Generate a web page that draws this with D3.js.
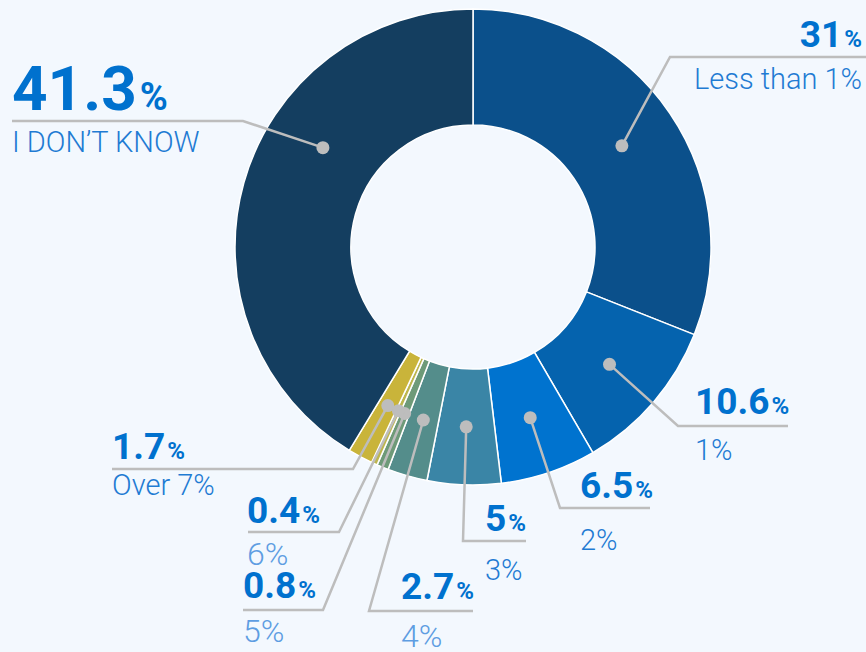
<!DOCTYPE html>
<html>
<head>
<meta charset="utf-8">
<script src="https://cdn.jsdelivr.net/npm/d3@7"></script>
<style>
  html, body { margin: 0; padding: 0; background: #f3f8fe; }
  svg { display: block; font-family: Roboto, "Noto Sans", sans-serif; }
</style>
</head>
<body>
<svg id="chart"></svg>
<script>
// data, clockwise from 12 o'clock
const categories = ["Less than 1%", "1%", "2%", "3%", "4%", "5%", "6%", "Over 7%", "I DON\u2019T KNOW"];
const shares = [31, 10.6, 6.5, 5, 2.7, 0.8, 0.4, 1.7, 41.3];
const valueLabels = ["31", "10.6", "6.5", "5", "2.7", "0.8", "0.4", "1.7", "41.3"];
const sliceColors = ["#0b508b", "#0563ae", "#0073cf", "#3a85a6", "#548d8b", "#6e9a78", "#bdb64e", "#c9b43a", "#143e60"];

// label layout (annotation placement, not data)
const labelLayout = [
  { anchor: "end",   tx: 862, numY: 47,  catY: 89,  lineY: 57,  lineEnd: 866, corner: 670, big: false, light: false },
  { anchor: "start", tx: 695, numY: 414, catY: 460, lineY: 426, lineEnd: 788, corner: 678, big: false, light: false },
  { anchor: "start", tx: 580, numY: 498, catY: 550, lineY: 508, lineEnd: 650, corner: 560, big: false, light: false },
  { anchor: "start", tx: 485, numY: 531, catY: 580, lineY: 541, lineEnd: 526, corner: 463, big: false, light: false },
  { anchor: "start", tx: 401, numY: 599, catY: 647, lineY: 611, lineEnd: 473, corner: 369, big: false, light: true },
  { anchor: "start", tx: 243, numY: 598, catY: 642, lineY: 610, lineEnd: 243, corner: 323, big: false, light: true },
  { anchor: "start", tx: 247, numY: 523, catY: 565, lineY: 532, lineEnd: 248, corner: 339, big: false, light: true },
  { anchor: "start", tx: 112, numY: 459, catY: 495, lineY: 469, lineEnd: 112, corner: 353, big: false, light: false },
  { anchor: "start", tx: 12,  numY: 110, catY: 152, lineY: 121, lineEnd: 12,  corner: 243, big: true,  light: false, dotAt: 0.62 }
];

const width = 866, height = 652;
const cx = 473, cy = 247, outerR = 238, innerR = 122;

const svg = d3.select("#chart")
  .attr("width", width)
  .attr("height", height)
  .attr("viewBox", [0, 0, width, height]);

const rows = categories.map((c, i) => ({ name: c, value: shares[i], label: valueLabels[i], color: sliceColors[i], layout: labelLayout[i] }));

const pie = d3.pie().sort(null).value((d) => d.value);
const arcs = pie(rows);

const arc = d3.arc().innerRadius(innerR).outerRadius(outerR);

const g = svg.append("g").attr("transform", `translate(${cx},${cy})`);

// slices
g.selectAll("path.slice")
  .data(arcs)
  .join("path")
  .attr("class", "slice")
  .attr("d", arc)
  .attr("fill", (d) => d.data.color)
  .attr("stroke", "#ffffff")
  .attr("stroke-width", 1.5);

// dot position along the ring (mid radius), usually the slice middle
function dotPoint(d) {
  const t = d.data.layout.dotAt ?? 0.5;
  const a = d.startAngle + (d.endAngle - d.startAngle) * t;
  const rr = (innerR + outerR) / 2;
  return [cx + rr * Math.sin(a), cy - rr * Math.cos(a)];
}

const labels = svg.append("g");

// leader lines
labels.selectAll("polyline")
  .data(arcs)
  .join("polyline")
  .attr("fill", "none")
  .attr("stroke", "#bdbdbd")
  .attr("stroke-width", 2.5)
  .attr("points", (d) => {
    const p = dotPoint(d);
    const L = d.data.layout;
    return [p, [L.corner, L.lineY], [L.lineEnd, L.lineY]].map((q) => q.join(",")).join(" ");
  });

// dots
labels.selectAll("circle")
  .data(arcs)
  .join("circle")
  .attr("cx", (d) => dotPoint(d)[0])
  .attr("cy", (d) => dotPoint(d)[1])
  .attr("r", 6.5)
  .attr("fill", "#bdbdbd");

// value labels
const num = labels.selectAll("text.num")
  .data(arcs)
  .join("text")
  .attr("class", "num")
  .attr("x", (d) => d.data.layout.tx)
  .attr("y", (d) => d.data.layout.numY)
  .attr("text-anchor", (d) => d.data.layout.anchor)
  .attr("fill", "#0071ce")
  .attr("font-weight", 700)
  .attr("font-size", (d) => d.data.layout.big ? 62 : 37);

num.append("tspan").text((d) => d.data.label);
num.append("tspan")
  .attr("dx", (d) => d.data.layout.big ? 3 : 2)
  .attr("font-size", (d) => d.data.layout.big ? 38 : 24)
  .text("%");

// category labels
labels.selectAll("text.cat")
  .data(arcs)
  .join("text")
  .attr("class", "cat")
  .attr("x", (d) => d.data.layout.tx)
  .attr("y", (d) => d.data.layout.catY)
  .attr("text-anchor", (d) => d.data.layout.anchor)
  .attr("fill", (d) => d.data.layout.light ? "#5e9de2" : "#1f7bd3")
  .attr("font-weight", 300)
  .attr("font-size", (d) => d.data.layout.light ? 32 : 29)
  .text((d) => d.data.name);
</script>
</body>
</html>
